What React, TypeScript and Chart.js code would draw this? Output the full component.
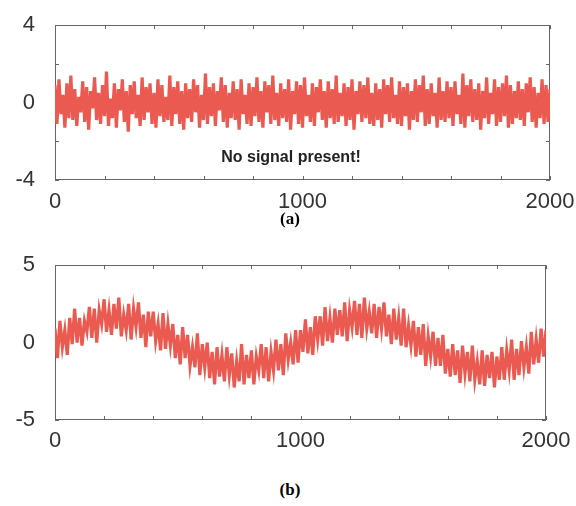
import React, { useEffect, useRef } from 'react';
import { Chart, registerables } from 'chart.js';

Chart.register(...registerables);

// Panel (a): noise only, sampled every 8 samples from 0 to 2000
const SAMPLE_STEP_A = 8;
const noiseA = [
  0.9, -1.1, 1.2, -0.6, 0.4, -1.3, 1.0, -0.8, 1.4, -0.9,
  0.7, -1.2, 0.3, -0.5, 1.1, -1.0, 0.8, -1.4, 0.6, -0.3,
  1.3, -0.9, 0.5, -1.1, 0.9, -0.7, 1.6, -1.2, 0.2, -0.8,
  1.0, -1.3, 0.7, -0.4, 1.2, -1.0, 0.6, -1.5, 0.9, -0.6,
  1.1, -0.8, 0.4, -1.2, 1.3, -0.9, 0.8, -0.5, 1.0, -1.1,
  0.5, -1.3, 1.2, -0.7, 0.9, -1.0, 0.3, -0.9, 1.4, -1.2,
  0.8, -0.6, 1.1, -1.1, 0.6, -1.4, 1.0, -0.8, 0.7, -1.0,
  1.2, -0.5, 0.9, -1.3, 0.4, -0.9, 1.5, -1.1, 0.8, -0.7,
  1.0, -1.2, 0.6, -0.4, 1.3, -1.0, 0.9, -1.3, 0.5, -0.8,
  1.1, -0.9, 0.7, -1.4, 1.2, -0.6, 0.4, -1.1, 1.0, -1.2,
  0.8, -0.7, 1.3, -1.0, 0.6, -1.3, 1.1, -0.5, 0.9, -1.1,
  1.4, -0.9, 0.5, -1.2, 1.0, -0.8, 0.7, -1.0, 1.2, -1.4,
  0.6, -0.6, 1.1, -1.1, 0.9, -1.3, 1.3, -0.7, 0.4, -1.0,
  1.0, -1.2, 0.8, -0.5, 1.2, -0.9, 0.6, -1.3, 1.1, -0.8,
  0.7, -1.1, 1.4, -1.0, 0.5, -0.7, 1.0, -1.2, 0.8, -0.9,
  1.2, -1.4, 0.6, -0.6, 1.1, -1.0, 0.9, -0.8, 1.3, -1.1,
  0.5, -1.2, 1.0, -0.9, 0.7, -1.3, 1.2, -0.6, 0.9, -1.0,
  1.3, -0.8, 0.4, -1.1, 1.1, -1.2, 0.8, -0.7, 1.0, -1.4,
  0.6, -0.9, 1.2, -1.0, 0.9, -0.5, 1.4, -1.2, 0.7, -1.1,
  1.0, -0.7, 0.5, -1.3, 1.3, -0.9, 0.6, -1.0, 1.1, -0.8,
  0.8, -1.2, 1.1, -0.6, 0.4, -1.1, 1.5, -1.3, 0.9, -0.7,
  1.2, -1.0, 0.7, -0.9, 1.0, -1.4, 0.6, -0.8, 1.3, -1.1,
  0.5, -0.6, 1.2, -1.2, 0.8, -1.0, 1.0, -0.7, 1.4, -1.3,
  0.9, -1.1, 0.6, -0.8, 1.1, -0.9, 0.7, -1.2, 1.0, -0.5,
  1.3, -1.0, 0.8, -1.3, 0.5, -0.8, 1.2, -1.1, 0.9, -1.0,
  0.7,
];

// Panel (b): noisy sinusoid, sampled every 10 samples from 0 to 2000
const SAMPLE_STEP_B = 10;
const signalB = [
  0.9, -1.0, 1.4, -0.3, 0.8, -0.8, 1.6, -0.1, 2.2, 0.0,
  1.6, -0.2, 1.4, 0.7, 2.3, 0.3, 2.2, 0.0, 2.1, 1.2,
  2.8, 0.7, 2.1, 0.5, 2.5, 0.9, 2.9, 0.4, 1.8, 0.8,
  2.5, 0.2, 2.2, 1.0, 2.6, 0.3, 1.8, -0.3, 2.0, 0.4,
  2.0, 0.1, 1.2, -0.5, 1.9, -0.4, 1.2, -0.2, 1.2, -1.0,
  0.5, -1.4, 1.0, -1.0, 0.5, -1.5, -0.3, -1.6, 0.6, -2.1,
  -0.1, -1.6, 0.0, -2.3, -0.6, -2.7, -0.3, -2.2, -0.8, -2.5,
  -0.3, -2.1, -0.7, -2.9, -1.2, -2.5, -0.1, -2.7, -0.8, -2.3,
  -0.5, -2.7, -0.9, -1.8, -0.1, -2.3, -0.3, -2.5, -0.6, -1.8,
  0.2, -1.8, -0.1, -2.1, 0.6, -1.1, 0.0, -1.4, 0.8, -1.3,
  0.8, -0.6, 1.5, -0.7, 1.0, -0.8, 1.7, 0.2, 1.7, -0.2,
  2.3, 0.1, 1.6, 0.0, 2.2, 0.5, 2.1, 0.4, 2.6, 0.1,
  2.1, 1.0, 2.7, 0.5, 2.5, 0.3, 2.9, 0.9, 2.0, 0.6,
  2.5, 0.3, 2.3, 0.9, 2.6, 0.4, 1.8, -0.1, 2.2, 0.2,
  1.6, -0.2, 2.2, -0.3, 1.1, -0.2, 1.4, -0.9, 1.0, -0.8,
  1.2, -1.5, 0.4, -0.9, 0.7, -1.5, 0.3, -1.5, 0.5, -2.0,
  -0.4, -2.2, -0.1, -2.1, -0.5, -2.6, -0.2, -2.0, -0.6, -2.5,
  -0.2, -2.4, -1.2, -2.7, -0.5, -2.8, -0.8, -2.3, -0.6, -2.9,
  -0.9, -2.4, -0.3, -2.4, -0.5, -1.8, 0.2, -2.4, -0.4, -2.1,
  0.1, -1.6, -0.3, -2.0, 0.7, -1.4, 0.2, -1.3, 0.9, -0.9,
  0.8,
];

const xLabelled = [0, 1000, 2000];
const yLabelledA = [-4, 0, 4];
const yLabelledB = [-5, 0, 5];

const LINE_COLOR = 'rgb(234, 90, 80)';
const TICK_FONT = { family: '"Liberation Sans", Arial, sans-serif', size: 22 };

const framePlugin = {
  id: 'frame',
  beforeDatasetsDraw(chart: any) {
    const { ctx, chartArea: a, scales } = chart;
    ctx.save();
    ctx.strokeStyle = '#666';
    ctx.lineWidth = 1;
    ctx.strokeRect(Math.round(a.left) + 0.5, Math.round(a.top) + 0.5, Math.round(a.width) - 1, Math.round(a.height) - 1);
    const len = 4;
    ctx.beginPath();
    scales.x.ticks.forEach((t: any) => {
      const px = Math.round(scales.x.getPixelForValue(t.value)) + 0.5;
      ctx.moveTo(px, a.bottom);
      ctx.lineTo(px, a.bottom - len);
      ctx.moveTo(px, a.top);
      ctx.lineTo(px, a.top + len);
    });
    scales.y.ticks.forEach((t: any) => {
      const py = Math.round(scales.y.getPixelForValue(t.value)) + 0.5;
      ctx.moveTo(a.left, py);
      ctx.lineTo(a.left + len, py);
      ctx.moveTo(a.right, py);
      ctx.lineTo(a.right - len, py);
    });
    ctx.stroke();
    ctx.restore();
  },
};

type PanelProps = {
  values: number[];
  step: number;
  yMin: number;
  yMax: number;
  yStep: number;
  yLabelled: number[];
  width: number;
  height: number;
  padTop: number;
  padRight: number;
  xAxisHeight: number;
  xPad: number;
};

function Panel(p: PanelProps) {
  const ref = useRef<HTMLCanvasElement>(null);
  useEffect(() => {
    if (!ref.current) return;
    const data = p.values.map((v, i) => ({ x: i * p.step, y: v }));
    const chart = new Chart(ref.current, {
      type: 'line',
      data: {
        datasets: [
          {
            data,
            borderColor: LINE_COLOR,
            borderWidth: 3.2,
            borderJoinStyle: 'miter',
            pointRadius: 0,
            tension: 0,
            fill: false,
          },
        ],
      },
      options: {
        animation: false,
        responsive: false,
        maintainAspectRatio: false,
        devicePixelRatio: 1,
        layout: { padding: { top: p.padTop, right: p.padRight, left: 0, bottom: 0 } },
        plugins: { legend: { display: false }, tooltip: { enabled: false } },
        scales: {
          x: {
            type: 'linear',
            min: 0,
            max: 2000,
            grid: { display: false },
            border: { display: false },
            ticks: {
              stepSize: 200,
              autoSkip: false,
              maxRotation: 0,
              padding: p.xPad,
              color: '#333',
              font: TICK_FONT,
              callback: (v: any) => (xLabelled.includes(Number(v)) ? String(v) : ''),
            },
            afterFit: (s: any) => {
              s.height = p.xAxisHeight;
            },
          },
          y: {
            type: 'linear',
            min: p.yMin,
            max: p.yMax,
            grid: { display: false },
            border: { display: false },
            ticks: {
              stepSize: p.yStep,
              autoSkip: false,
              padding: 12,
              color: '#333',
              font: TICK_FONT,
              callback: (v: any) => (p.yLabelled.includes(Number(v)) ? String(v) : ''),
            },
            afterFit: (s: any) => {
              s.width = 55;
            },
          },
        },
      },
      plugins: [framePlugin],
    });
    return () => chart.destroy();
  }, []);
  return <canvas ref={ref} width={p.width} height={p.height} style={{ display: 'block', width: p.width, height: p.height }} />;
}

export default function App() {
  return (
    <div style={{ position: 'absolute', left: 0, top: 0, width: 576, height: 506, background: '#fff' }}>
      <div style={{ position: 'absolute', left: 0, top: 0 }}>
        <Panel
          values={noiseA}
          step={SAMPLE_STEP_A}
          yMin={-4}
          yMax={4}
          yStep={2}
          yLabelled={yLabelledA}
          width={576}
          height={230}
          padTop={15}
          padRight={26}
          xAxisHeight={50}
          xPad={1}
        />
      </div>
      <div
        style={{
          position: 'absolute',
          left: 191,
          top: 147,
          width: 200,
          textAlign: 'center',
          font: 'bold 16px "Liberation Sans", Arial, sans-serif',
          lineHeight: '20px',
          color: '#222',
        }}
      >
        No signal present!
      </div>
      <div
        style={{
          position: 'absolute',
          left: 260,
          top: 209,
          width: 60,
          textAlign: 'center',
          font: 'bold 17px "Liberation Serif", "Times New Roman", serif',
          lineHeight: '20px',
          color: '#000',
        }}
      >
        (a)
      </div>
      <div style={{ position: 'absolute', left: 0, top: 240 }}>
        <Panel
          values={signalB}
          step={SAMPLE_STEP_B}
          yMin={-5}
          yMax={5}
          yStep={5}
          yLabelled={yLabelledB}
          width={576}
          height={220}
          padTop={19}
          padRight={30}
          xAxisHeight={40}
          xPad={0}
        />
      </div>
      <div
        style={{
          position: 'absolute',
          left: 260,
          top: 480,
          width: 60,
          textAlign: 'center',
          font: 'bold 17px "Liberation Serif", "Times New Roman", serif',
          lineHeight: '20px',
          color: '#000',
        }}
      >
        (b)
      </div>
    </div>
  );
}
